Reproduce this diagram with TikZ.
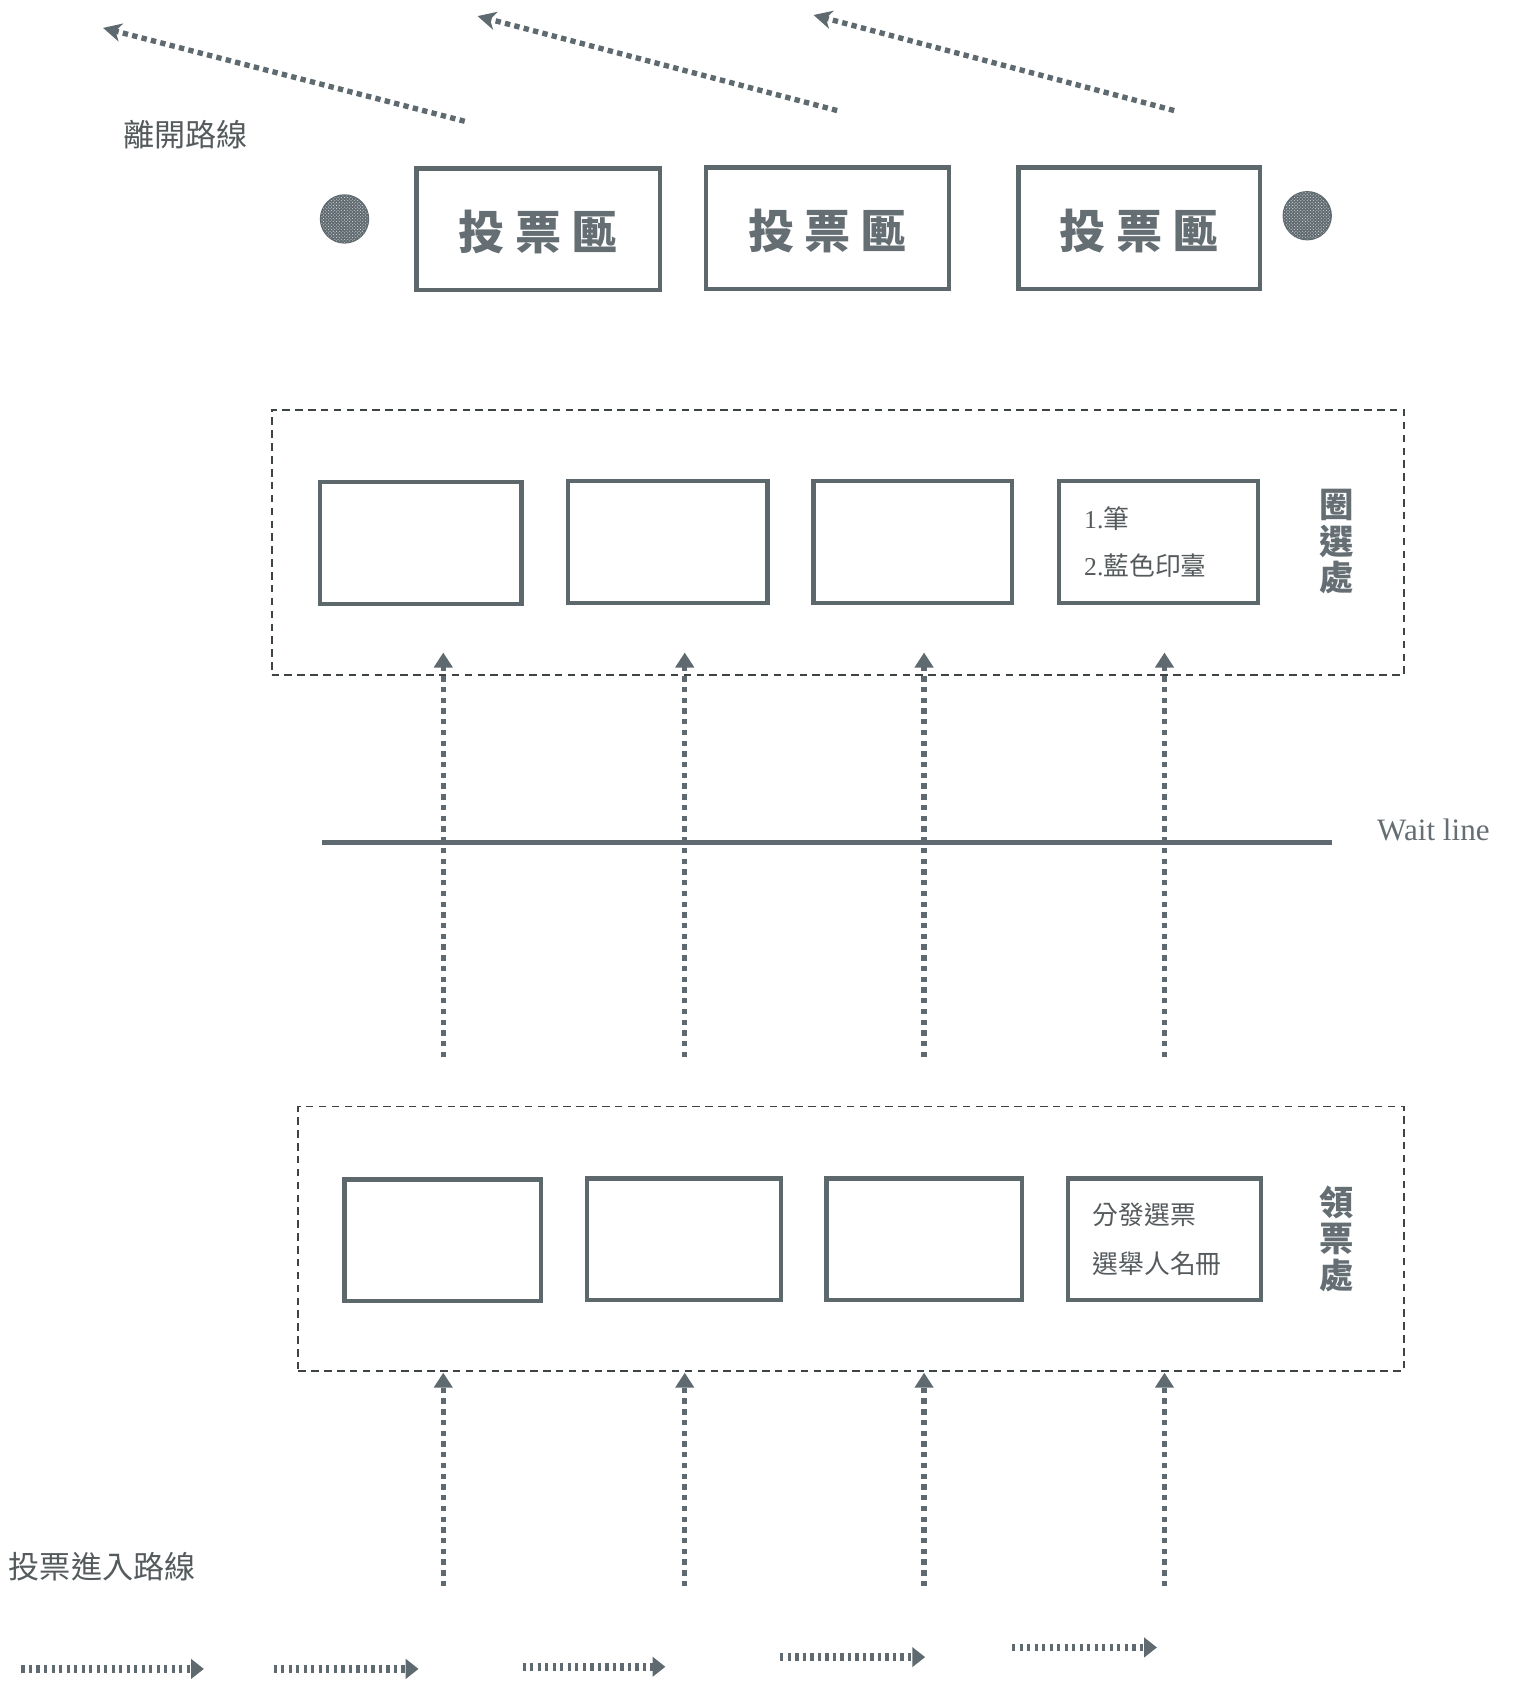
\documentclass[tikz,border=0pt]{standalone}
\usepackage{fontspec}
\setmainfont{Liberation Serif}
\newfontfamily\cjk{Noto Sans CJK TC}
\usetikzlibrary{arrows.meta,patterns}
\definecolor{boxc}{HTML}{5D686D}
\definecolor{dashc}{HTML}{3E4346}
\definecolor{txtc}{HTML}{555A5D}
\definecolor{labc}{HTML}{646E73}
\definecolor{arrc}{HTML}{5F6A70}
\begin{document}
\begin{tikzpicture}[x=1pt,y=-1pt,
  stall/.style={draw=boxc, line width=4pt, inner sep=0pt},
  zone/.style={draw=dashc, line width=1.8pt, dash pattern=on 7pt off 5pt},
  urn/.style={font=\cjk\bfseries\fontsize{43}{46}\selectfont, text=labc},
  vlab/.style={font=\cjk\bfseries\fontsize{32}{34}\selectfont, text=labc, align=center, inner sep=0pt},
  inner/.style={font=\cjk\fontsize{24}{26}\selectfont, text=txtc, anchor=west, inner sep=0pt},
  route/.style={font=\cjk\fontsize{29}{31}\selectfont, text=txtc, inner sep=0pt},
  exitarr/.style={draw=arrc, line width=5pt, dash pattern=on 5pt off 4pt, -{Stealth[length=17pt,width=17pt,inset=5pt]}},
  uparr/.style={draw=arrc, line width=5pt, dash pattern=on 5pt off 5pt, -{Triangle[length=14pt,width=17pt]}},
  inarr/.style={draw=arrc, line width=7pt, dash pattern=on 3pt off 4pt, -{Triangle[length=12pt,width=18pt]}},
  dot/.style={circle, fill=arrc, minimum size=46pt, inner sep=0pt, draw=none}
]
\useasboundingbox (0,0) rectangle (1410,1570);

% exit routes
\coordinate (e1s) at (433,113); \coordinate (e1e) at (96,26);
\coordinate (e2s) at (780,103); \coordinate (e2e) at (445,15);
\coordinate (e3s) at (1094,103); \coordinate (e3e) at (758,14);
\draw[exitarr] (e1s) -- (e1e);
\draw[exitarr] (e2s) -- (e2e);
\draw[exitarr] (e3s) -- (e3e);
\node[route] (exitlab) at (173,125) {離開路線};

% ballot boxes
\node[dot] (dotL) at (321,204) {};
\node[dot] (dotR) at (1218,201) {};
\fill[pattern=crosshatch dots, pattern color=white!80!arrc] (dotL) circle (22pt);
\fill[pattern=crosshatch dots, pattern color=white!80!arrc] (dotR) circle (22pt);
\node[stall, minimum width=227pt, minimum height=113pt] (u1) at (501.5,213.5) {};
\node[stall, minimum width=226pt, minimum height=113pt] (u2) at (771,212.5) {};
\node[stall, minimum width=225pt, minimum height=113pt] (u3) at (1061.5,212.5) {};
\node[urn] (u1t) at ([yshift=-3pt]u1.center) {投\hspace{0.22em}票\hspace{0.22em}匭};
\node[urn] (u2t) at ([yshift=-3pt]u2.center) {投\hspace{0.22em}票\hspace{0.22em}匭};
\node[urn] (u3t) at ([yshift=-3pt]u3.center) {投\hspace{0.22em}票\hspace{0.22em}匭};

% marking area
\node[zone, minimum width=1055pt, minimum height=247pt, inner sep=0pt] (zoneA) at (780.5,505.5) {};
\node[stall, minimum width=188pt, minimum height=114pt] (m1) at (392,506) {};
\node[stall, minimum width=186pt, minimum height=114pt] (m2) at (622,505) {};
\node[stall, minimum width=185pt, minimum height=114pt] (m3) at (850.5,505) {};
\node[stall, minimum width=185pt, minimum height=114pt] (m4) at (1079.5,505) {};
\node[inner] (m4a) at (1010,483) {\rmfamily 1.\cjk 筆};
\node[inner] (m4b) at (1010,527) {\rmfamily 2.\cjk 藍色印臺};
\node[vlab] (labA) at (1245,505) {圈\\選\\處};

% wait line
\coordinate (wl1) at (300,785); \coordinate (wl2) at (1241,785);
\draw[draw=arrc, line width=5pt] (wl1) -- (wl2);
\node[font=\fontsize{29}{31}\selectfont, text=labc, anchor=west, inner sep=0pt] (wlt) at (1283,773) {Wait line};

% arrows to marking area
\foreach \i/\x in {1/413,2/638,3/861,4/1085}{
  \coordinate (ua\i) at (\x,985); \coordinate (ub\i) at (\x,608);
  \draw[uparr] (ua\i) -- (ub\i);
}

% ballot issuing area
\node[zone, minimum width=1030pt, minimum height=246pt, inner sep=0pt] (zoneB) at (793,1154) {};
\node[stall, minimum width=183pt, minimum height=113pt] (t1) at (412.5,1155.5) {};
\node[stall, minimum width=181pt, minimum height=113pt] (t2) at (637.5,1154.5) {};
\node[stall, minimum width=182pt, minimum height=113pt] (t3) at (861,1154.5) {};
\node[stall, minimum width=180pt, minimum height=113pt] (t4) at (1085,1154.5) {};
\node[inner] (t4a) at (1018,1132) {分發選票};
\node[inner] (t4b) at (1018,1177) {選舉人名冊};
\node[vlab] (labB) at (1245,1154) {領\\票\\處};

% arrows to issuing area
\foreach \i/\x in {1/413,2/638,3/861,4/1085}{
  \coordinate (la\i) at (\x,1478); \coordinate (lb\i) at (\x,1279);
  \draw[uparr] (la\i) -- (lb\i);
}

% entry route
\node[route, anchor=west] (entlab) at (8,1460) {投票進入路線};
\coordinate (h1a) at (20,1555); \coordinate (h1b) at (190,1555);
\coordinate (h2a) at (255,1555); \coordinate (h2b) at (390,1555);
\coordinate (h3a) at (487,1553); \coordinate (h3b) at (620,1553);
\coordinate (h4a) at (727,1544); \coordinate (h4b) at (862,1544);
\coordinate (h5a) at (943,1535); \coordinate (h5b) at (1078,1535);
\draw[inarr] (h1a) -- (h1b);
\draw[inarr] (h2a) -- (h2b);
\draw[inarr] (h3a) -- (h3b);
\draw[inarr] (h4a) -- (h4b);
\draw[inarr] (h5a) -- (h5b);
\end{tikzpicture}
\end{document}
